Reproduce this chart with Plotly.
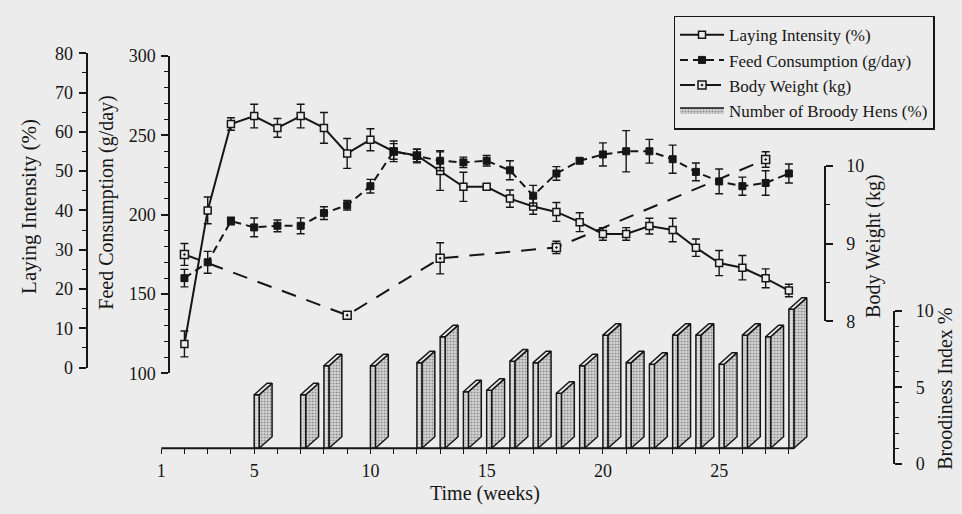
import plotly.graph_objects as go

W, H = 962, 514
SERIF = "Liberation Serif"
INK = "#161616"
BG = "#ececec"

# ---------------- data ----------------
weeks = list(range(2, 29))
laying = [6, 40, 62, 64, 61, 64, 61, 54.5, 58, 55, 54, 50, 46, 46, 43, 41, 39.6,
          37, 34, 34, 36, 35, 30.5, 26.6, 25.4, 22.7, 19.6]
laying_err = [3.3, 3.4, 1.6, 3, 2.4, 3, 3.9, 3.8, 2.8, 2, 1.6, 4.9, 3.7, 0.6, 2.2,
              2, 2.4, 2.4, 1.6, 1.6, 2, 3, 2.2, 3.2, 3.1, 2.4, 1.6]
feed = [160, 170, 196, 192, 193, 193, 201, 206, 218, 240, 237, 234, 233, 234, 228,
        212, 226, 234, 238, 240, 240, 235, 227, 221, 218, 220, 226]
feed_err = [5.5, 6.9, 2.4, 5.9, 3.7, 5, 4, 3, 4.3, 6.5, 4.3, 6.3, 3.3, 3.3, 6,
            6.5, 4.3, 1.5, 7.3, 13, 7.5, 8.9, 5.6, 7.8, 5.7, 7.7, 6]
bw_weeks = [2, 9, 13, 18, 27]
body_weight = [8.86, 8.08, 8.81, 8.95, 10.08]
body_weight_err = [0.14, 0, 0.2, 0.08, 0.1]
brood_weeks = [5, 7, 8, 10, 12, 13, 14, 15, 16, 17, 18, 19, 20, 21, 22, 23, 24,
               25, 26, 27, 28]
broody = [3.5, 3.5, 5.4, 5.4, 5.6, 7.3, 3.7, 3.8, 5.7, 5.6, 3.6, 5.4, 7.4, 5.6,
          5.5, 7.4, 7.4, 5.5, 7.4, 7.3, 9.1]
x_tick_labels = {1: "1", 5: "5", 10: "10", 15: "15", 20: "20", 25: "25"}

# ---------------- geometry (pixels on the canvas) ----------------
X_LEFT_PX, X_STEP_PX = 157, 23.37
X_RANGE = [1, 29]
X_AXIS_PX = 456
LI_AX = dict(xpx=82, bottom=372, top=45, rng=[0, 80])
FEED_AX = dict(xpx=165, bottom=378, top=48, rng=[100, 300])
BW_AX = dict(xpx=824, bottom=324, top=162, rng=[8, 10])
BR_AX = dict(xpx=894, bottom=472, top=313, rng=[0, 10])

def fx(px):
    return px / W

def fy(py):
    return 1 - py / H

x_right_px = X_LEFT_PX + (X_RANGE[1] - X_RANGE[0]) * X_STEP_PX

def hidden_range(ax, zero_px=None, zero_val=None):
    """range of a full-height hidden axis with the same pixel scale as ax"""
    upp = (ax["rng"][1] - ax["rng"][0]) / (ax["bottom"] - ax["top"])
    if zero_px is None:
        zero_px, zero_val = ax["bottom"], ax["rng"][0]
    return [zero_val - (H - zero_px) * upp, zero_val + zero_px * upp], upp

bw_hidden_rng, _ = hidden_range(BW_AX)
bar_hidden_rng, bar_upp = hidden_range(BR_AX, X_AXIS_PX, 0)

# 3-D bar styling (pixels)
FRONT_W, DEPTH_X, DEPTH_Y = 5, 13, 12
fw = FRONT_W / X_STEP_PX
dx = DEPTH_X / X_STEP_PX
dyy = DEPTH_Y * bar_upp

fig = go.Figure()

err_style = dict(type="data", thickness=1.4, width=4, color=INK)

fig.add_trace(go.Scatter(
    x=weeks, y=laying, name="Laying Intensity (%)", mode="lines+markers",
    line=dict(color=INK, width=2),
    marker=dict(symbol="square", size=7, color=BG, line=dict(color=INK, width=1.5)),
    error_y=dict(array=laying_err, **err_style), xaxis="x", yaxis="y"))

fig.add_trace(go.Scatter(
    x=weeks, y=feed, name="Feed Consumption (g/day)", mode="lines+markers",
    line=dict(color=INK, width=2, dash="8px,5px"),
    marker=dict(symbol="square", size=7, color=INK, line=dict(color=INK, width=1)),
    error_y=dict(array=feed_err, **err_style), xaxis="x", yaxis="y2"))

fig.add_trace(go.Scatter(
    x=bw_weeks, y=body_weight, name="Body Weight (kg)", mode="lines+markers",
    line=dict(color=INK, width=2, dash="15px,11px"),
    marker=dict(symbol="square-dot", size=8, color=BG, line=dict(color=INK, width=1.5)),
    error_y=dict(array=body_weight_err, **err_style), xaxis="x", yaxis="y6"))

# 3-D bars built from the values
side_x, side_y, front_x, front_y, top_x, top_y = [], [], [], [], [], []
for w, v in zip(brood_weeks, broody):
    front_x += [w, w + fw, w + fw, w, w, None]
    front_y += [0, 0, v, v, 0, None]
    side_x += [w + fw, w + fw + dx, w + fw + dx, w + fw, w + fw, None]
    side_y += [0, dyy, v + dyy, v, 0, None]
    top_x += [w, w + fw, w + fw + dx, w + dx, w, None]
    top_y += [v, v, v + dyy, v + dyy, v, None]

bar_line = dict(color=INK, width=1.5)
fig.add_trace(go.Scatter(
    x=side_x, y=side_y, name="Number of Broody Hens (%)", mode="lines",
    fill="toself", line=bar_line, fillcolor="#c4c4c4",
    fillpattern=dict(shape=".", bgcolor="#d6d6d6", fgcolor="#3a3a3a", size=3, solidity=0.35),
    xaxis="x", yaxis="y5"))
fig.add_trace(go.Scatter(
    x=front_x, y=front_y, mode="lines", showlegend=False,
    fill="toself", line=bar_line, fillcolor="#dddddd",
    fillpattern=dict(shape=".", bgcolor="#e4e4e4", fgcolor="#707070", size=3, solidity=0.3),
    xaxis="x", yaxis="y5"))
fig.add_trace(go.Scatter(
    x=top_x, y=top_y, mode="lines", showlegend=False,
    fill="toself", line=bar_line, fillcolor="#e8e8e8",
    xaxis="x", yaxis="y5"))

# empty traces so that the two right-hand reference axes are drawn
for ya in ("y3", "y4"):
    fig.add_trace(go.Scatter(x=[], y=[], mode="markers", showlegend=False,
                             hoverinfo="skip", xaxis="x", yaxis=ya))

tickfont = dict(family=SERIF, size=18, color=INK)

def yaxis(ax, side, dtick, minor, standoff):
    return dict(
        domain=[fy(ax["bottom"]), fy(ax["top"])], range=ax["rng"],
        anchor="free", position=fx(ax["xpx"]), side=side,
        showline=True, linecolor=INK, linewidth=1.8, showgrid=False, zeroline=False,
        ticks="outside", ticklen=7, tickwidth=1.6, tickcolor=INK, dtick=dtick,
        tick0=ax["rng"][0],
        minor=dict(ticks="outside", ticklen=4, tickwidth=1.4, tickcolor=INK,
                   dtick=minor, tick0=ax["rng"][0], showgrid=False),
        tickfont=tickfont, ticklabelstandoff=standoff, fixedrange=True)

all_weeks = list(range(X_RANGE[0], 29))
fig.update_layout(
    width=W, height=H, autosize=False,
    margin=dict(l=0, r=0, t=0, b=0, pad=0),
    paper_bgcolor=BG, plot_bgcolor="rgba(0,0,0,0)",
    font=dict(family=SERIF, color=INK),
    xaxis=dict(
        domain=[fx(X_LEFT_PX), fx(x_right_px)], range=X_RANGE,
        anchor="free", position=fy(X_AXIS_PX),
        showline=False, showgrid=False, zeroline=False,
        tickvals=all_weeks, ticktext=[x_tick_labels.get(w, "") for w in all_weeks],
        ticks="outside", ticklen=5, tickwidth=1.4, tickcolor=INK,
        tickfont=tickfont, ticklabelstandoff=1, fixedrange=True),
    yaxis=yaxis(LI_AX, "left", 10, 5, 2),
    yaxis2=yaxis(FEED_AX, "left", 50, 10, 2),
    yaxis3=yaxis(BW_AX, "right", 1, 0.5, 10),
    yaxis4=yaxis(BR_AX, "right", 5, 1, 10),
    yaxis5=dict(domain=[0, 1], range=bar_hidden_rng, anchor="free", position=0,
                visible=False, fixedrange=True),
    yaxis6=dict(domain=[0, 1], range=bw_hidden_rng, anchor="free", position=0,
                visible=False, fixedrange=True),
    showlegend=True,
    legend=dict(x=fx(672), y=fy(6), xanchor="left", yanchor="top",
                bgcolor="rgba(0,0,0,0)", bordercolor=INK, borderwidth=1.5,
                font=dict(family=SERIF, size=17, color=INK),
                itemwidth=44, tracegroupgap=0, traceorder="normal"),
)

# x axis line (from week 1 to the last week)
fig.add_shape(type="line", xref="x", yref="paper",
              x0=X_RANGE[0], x1=max(weeks) + 0.2, y0=fy(X_AXIS_PX), y1=fy(X_AXIS_PX),
              line=dict(color=INK, width=1.8))

titles = [
    ("Laying Intensity (%)", 24, 204, -90, 21),
    ("Feed Consumption (g/day)", 102, 200, -90, 20),
    ("Body Weight (kg)", 873, 245, -90, 20),
    ("Broodiness Index %", 945, 394, -90, 20),
    ("Time (weeks)", 483, 503, 0, 20),
]
for text, px, py, ang, size in titles:
    fig.add_annotation(text=text, x=fx(px), y=fy(py), xref="paper", yref="paper",
                       showarrow=False, textangle=ang, xanchor="center", yanchor="middle",
                       font=dict(family=SERIF, size=size, color=INK))

fig.write_html(
    "out.html",
    config={"displayModeBar": False},
    post_script="document.body.style.margin='0';document.body.style.overflow='hidden';",
)
